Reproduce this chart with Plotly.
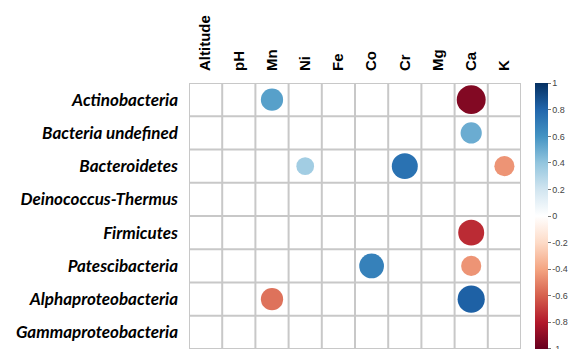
import plotly.graph_objects as go

# Environmental variables (columns) and bacterial taxa (rows)
variables = ["Altitude", "pH", "Mn", "Ni", "Fe", "Co", "Cr", "Mg", "Ca", "K"]
taxa = [
    "Actinobacteria",
    "Bacteria undefined",
    "Bacteroidetes",
    "Deinococcus-Thermus",
    "Firmicutes",
    "Patescibacteria",
    "Alphaproteobacteria",
    "Gammaproteobacteria",
]

# Significant correlation coefficients (0 = not significant / blank cell)
corr = [
    [0, 0, 0.55, 0, 0, 0, 0, 0, -0.93, 0],
    [0, 0, 0, 0, 0, 0, 0, 0, 0.50, 0],
    [0, 0, 0, 0.35, 0, 0, 0.75, 0, 0, -0.45],
    [0, 0, 0, 0, 0, 0, 0, 0, 0, 0],
    [0, 0, 0, 0, 0, 0, 0, 0, -0.75, 0],
    [0, 0, 0, 0, 0, 0.68, 0, 0, -0.45, 0],
    [0, 0, -0.55, 0, 0, 0, 0, 0, 0.82, 0],
    [0, 0, 0, 0, 0, 0, 0, 0, 0, 0],
]

colorbar_ticks = [1, 0.8, 0.6, 0.4, 0.2, 0, -0.2, -0.4, -0.6, -0.8, -1]

# Diverging red-blue palette
rdbu = ["#67001F", "#B2182B", "#D6604D", "#F4A582", "#FDDBC7", "#FFFFFF",
        "#D1E5F0", "#92C5DE", "#4393C3", "#2166AC", "#053061"]
colorscale = [[i / (len(rdbu) - 1), c] for i, c in enumerate(rdbu)]

xs, ys, vals = [], [], []
for i, row in enumerate(corr):
    for j, v in enumerate(row):
        if v != 0:
            xs.append(j + 1)
            ys.append(i + 1)
            vals.append(v)

n_cols, n_rows = len(variables), len(taxa)
max_diam = 30  # diameter in px of a |r| = 1 circle (circle area proportional to |r|)
c_lim = 1.002  # tiny headroom so the end ticks (±1) are kept on the colour bar

fig = go.Figure()
fig.add_trace(go.Scatter(
    x=xs, y=ys, mode="markers",
    marker=dict(
        size=[abs(v) for v in vals],
        sizemode="area",
        sizeref=2 * 1.0 / max_diam ** 2,
        opacity=1,
        color=vals,
        colorscale=colorscale,
        cmin=-c_lim, cmax=c_lim,
        line=dict(width=0),
        colorbar=dict(
            thickness=12.5,
            len=1.0, lenmode="fraction",
            x=1.043, xanchor="left", xpad=0,
            y=0.5, yanchor="middle", ypad=0,
            outlinewidth=0,
            ticks="outside", ticklen=3, tickwidth=1, tickcolor="#777",
            tickvals=colorbar_ticks,
            ticktext=[f"{t:g}" for t in colorbar_ticks],
            ticklabeloverflow="allow",
            tickfont=dict(family="Liberation Sans", size=9, color="#444"),
        ),
    ),
    hoverinfo="skip",
    showlegend=False,
))

# Cell borders
grid_color = "#c8c8c8"
shapes = []
for k in range(n_cols + 1):
    shapes.append(dict(type="line", xref="x", yref="y", x0=k + 0.5, x1=k + 0.5,
                       y0=0.5, y1=n_rows + 0.5, line=dict(color=grid_color, width=2),
                       layer="below"))
for k in range(n_rows + 1):
    shapes.append(dict(type="line", xref="x", yref="y", x0=0.5, x1=n_cols + 0.5,
                       y0=k + 0.5, y1=k + 0.5, line=dict(color=grid_color, width=2),
                       layer="below"))

fig.update_layout(
    width=569, height=349,
    margin=dict(l=189, r=46, t=83, b=0),
    paper_bgcolor="white", plot_bgcolor="white",
    shapes=shapes,
    xaxis=dict(
        range=[0.5, n_cols + 0.5], side="top",
        tickvals=list(range(1, n_cols + 1)), ticktext=variables,
        tickangle=-90, showgrid=False, zeroline=False, showline=False,
        ticks="", ticklabelstandoff=11,
        tickfont=dict(family="Liberation Sans", size=15, color="black", weight="bold"),
    ),
    yaxis=dict(
        range=[n_rows + 0.5, 0.5],
        tickvals=list(range(1, n_rows + 1)), ticktext=taxa,
        showgrid=False, zeroline=False, showline=False,
        ticks="", ticklabelstandoff=10,
        tickfont=dict(family="Lato", size=17, color="black", weight="bold", style="italic"),
    ),
)

fig.write_html("out.html")
